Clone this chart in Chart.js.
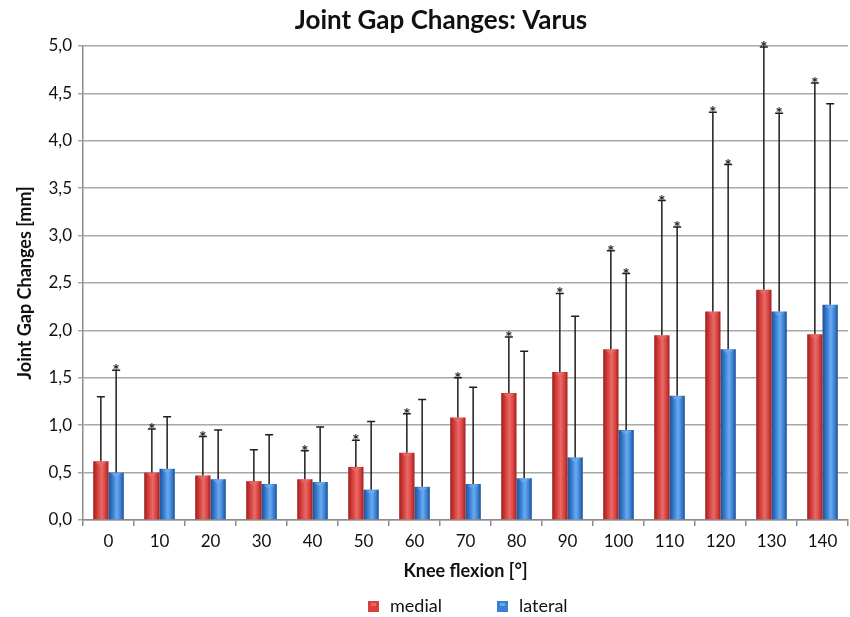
<!DOCTYPE html>
<html>
<head>
<meta charset="utf-8">
<title>Joint Gap Changes: Varus</title>
<script src="https://cdn.jsdelivr.net/npm/chart.js@4.4.1/dist/chart.umd.min.js"></script>
<style>
    html, body { margin: 0; padding: 0; background: #fff; }
    #wrap { width: 850px; height: 617px; }
</style>
</head>
<body>
<div id="wrap"><canvas id="gap-chart" width="850" height="617"></canvas></div>
<script>
        /*****************************************
         * 1. DATA
         *****************************************/
        const flexionAngles = ['0', '10', '20', '30', '40', '50', '60', '70', '80', '90', '100', '110', '120', '130', '140'];

        const medialMean = [0.62, 0.50, 0.47, 0.41, 0.43, 0.56, 0.71, 1.08, 1.34, 1.56, 1.80, 1.95, 2.20, 2.43, 1.96];
        const lateralMean = [0.50, 0.54, 0.43, 0.38, 0.40, 0.32, 0.35, 0.38, 0.44, 0.66, 0.95, 1.31, 1.80, 2.20, 2.27];

        // top of the (upper only) error bars
        const medialErrTop = [1.30, 0.96, 0.88, 0.74, 0.73, 0.84, 1.12, 1.50, 1.93, 2.39, 2.84, 3.37, 4.30, 4.99, 4.61];
        const lateralErrTop = [1.58, 1.09, 0.95, 0.90, 0.98, 1.04, 1.27, 1.40, 1.78, 2.15, 2.60, 3.09, 3.75, 4.29, 4.39];

        // significance marks (*)
        const medialStar = [false, true, true, false, true, true, true, true, true, true, true, true, true, true, true];
        const lateralStar = [true, false, false, false, false, false, false, false, false, false, true, true, true, true, false];

        const yTicks = [0, 0.5, 1, 1.5, 2, 2.5, 3, 3.5, 4, 4.5, 5];

        const FONT = 'Lato, "Open Sans", sans-serif';

        /*****************************************
         * 2. PLUGINS: 3D-ish bars, error bars, title, legend
         *****************************************/
        const barShades = [
            { edge: '#9e1f1f', mid: '#d8413f', light: '#e86a66' },   // medial
            { edge: '#1c4f95', mid: '#3a80d2', light: '#6aaaf0' }    // lateral
        ];

        const shadingPlugin = {
            id: 'shading',
            beforeDatasetsDraw(chart) {
                const ctx = chart.ctx;
                chart.data.datasets.forEach((ds, di) => {
                    const s = barShades[di];
                    chart.getDatasetMeta(di).data.forEach(el => {
                        const left = el.x - el.width / 2;
                        const g = ctx.createLinearGradient(left, 0, left + el.width, 0);
                        g.addColorStop(0, s.edge);
                        g.addColorStop(0.3, s.mid);
                        g.addColorStop(0.55, s.light);
                        g.addColorStop(0.8, s.mid);
                        g.addColorStop(1, s.edge);
                        el.options = Object.assign({}, el.options, { backgroundColor: g });
                    });
                });
            },
            afterDatasetsDraw(chart) {
                // little highlight triangle on top of each bar
                const ctx = chart.ctx;
                chart.data.datasets.forEach((ds, di) => {
                    const s = barShades[di];
                    chart.getDatasetMeta(di).data.forEach(el => {
                        const w = el.width;
                        ctx.save();
                        ctx.fillStyle = s.light;
                        ctx.globalAlpha = 0.8;
                        ctx.beginPath();
                        ctx.moveTo(el.x - w * 0.35, el.y + 1);
                        ctx.lineTo(el.x + w * 0.35, el.y + 1);
                        ctx.lineTo(el.x, el.y + 5);
                        ctx.closePath();
                        ctx.fill();
                        ctx.restore();
                    });
                });
            }
        };

        const errorBarPlugin = {
            id: 'errorBars',
            afterDatasetsDraw(chart) {
                const ctx = chart.ctx;
                const yScale = chart.scales.y;
                const tops = [medialErrTop, lateralErrTop];
                const stars = [medialStar, lateralStar];
                ctx.save();
                ctx.strokeStyle = '#1e1e1e';
                ctx.fillStyle = '#1e1e1e';
                ctx.lineWidth = 1.5;
                chart.data.datasets.forEach((ds, di) => {
                    chart.getDatasetMeta(di).data.forEach((el, i) => {
                        const yTop = yScale.getPixelForValue(tops[di][i]);
                        ctx.beginPath();
                        ctx.moveTo(el.x, el.y);
                        ctx.lineTo(el.x, yTop);
                        ctx.moveTo(el.x - 4, yTop);
                        ctx.lineTo(el.x + 4, yTop);
                        ctx.stroke();
                        if (stars[di][i]) {
                            ctx.font = 'bold 17px ' + FONT;
                            ctx.textAlign = 'center';
                            ctx.textBaseline = 'alphabetic';
                            ctx.fillText('*', el.x, yTop + 7);
                        }
                    });
                });
                ctx.restore();
            }
        };

        const titleLegendPlugin = {
            id: 'titleLegend',
            afterDraw(chart) {
                const ctx = chart.ctx;
                ctx.save();
                ctx.fillStyle = '#111';
                ctx.font = 'bold 26px ' + FONT;
                ctx.textAlign = 'center';
                ctx.textBaseline = 'middle';
                ctx.fillText('Joint Gap Changes: Varus', 441, 21);

                // legend
                const items = [
                    { label: chart.data.datasets[0].label, x: 368, s: barShades[0] },
                    { label: chart.data.datasets[1].label, x: 497, s: barShades[1] }
                ];
                ctx.font = '18px ' + FONT;
                ctx.textAlign = 'left';
                items.forEach(it => {
                    ctx.fillStyle = it.s.mid;
                    ctx.fillRect(it.x, 601, 11, 11);
                    ctx.fillStyle = it.s.light;
                    ctx.fillRect(it.x + 3, 603, 5, 3);
                    ctx.fillStyle = '#111';
                    ctx.fillText(it.label, it.x + 22, 606);
                });
                ctx.restore();
            }
        };

        /*****************************************
         * 3. CHART
         *****************************************/
        const ctx = document.getElementById('gap-chart').getContext('2d');
        const gapChart = new Chart(ctx, {
            type: 'bar',
            data: {
                labels: flexionAngles,
                datasets: [
                    { label: 'medial', data: medialMean, backgroundColor: barShades[0].mid },
                    { label: 'lateral', data: lateralMean, backgroundColor: barShades[1].mid }
                ]
            },
            options: {
                responsive: false,
                animation: false,
                categoryPercentage: 0.6,
                barPercentage: 1.0,
                layout: { padding: { top: 46, right: 2, bottom: 32, left: 0 } },
                plugins: {
                    legend: { display: false },
                    title: { display: false },
                    tooltip: { enabled: false }
                },
                scales: {
                    x: {
                        grid: { offset: true, drawOnChartArea: false, drawTicks: true, tickLength: 6, color: '#8c8c8c', lineWidth: 1.5 },
                        border: { color: '#8c8c8c', width: 1.5 },
                        ticks: { color: '#111', font: { family: FONT, size: 17 }, padding: 5, maxRotation: 0 },
                        title: { display: true, text: 'Knee flexion [°]', color: '#111', font: { family: FONT, size: 18, weight: 'bold' }, padding: { top: 4, bottom: 3 } },
                        afterFit(scale) { scale.height = 65; }
                    },
                    y: {
                        min: 0,
                        max: 5,
                        afterBuildTicks(scale) { scale.ticks = yTicks.map(v => ({ value: v })); },
                        grid: { color: '#a8a8a8', lineWidth: 1.5, tickLength: 5 },
                        border: { color: '#8c8c8c', width: 1.5 },
                        ticks: {
                            color: '#111',
                            font: { family: FONT, size: 17 },
                            padding: 6,
                            callback: v => v.toFixed(1).replace('.', ',')
                        },
                        title: { display: true, text: 'Joint Gap Changes [mm]', color: '#111', font: { family: FONT, size: 18, weight: 'bold' }, padding: { top: 14, bottom: 4 } },
                        afterFit(scale) { scale.width = 83; }
                    }
                }
            },
            plugins: [shadingPlugin, errorBarPlugin, titleLegendPlugin]
        });
</script>
</body>
</html>
